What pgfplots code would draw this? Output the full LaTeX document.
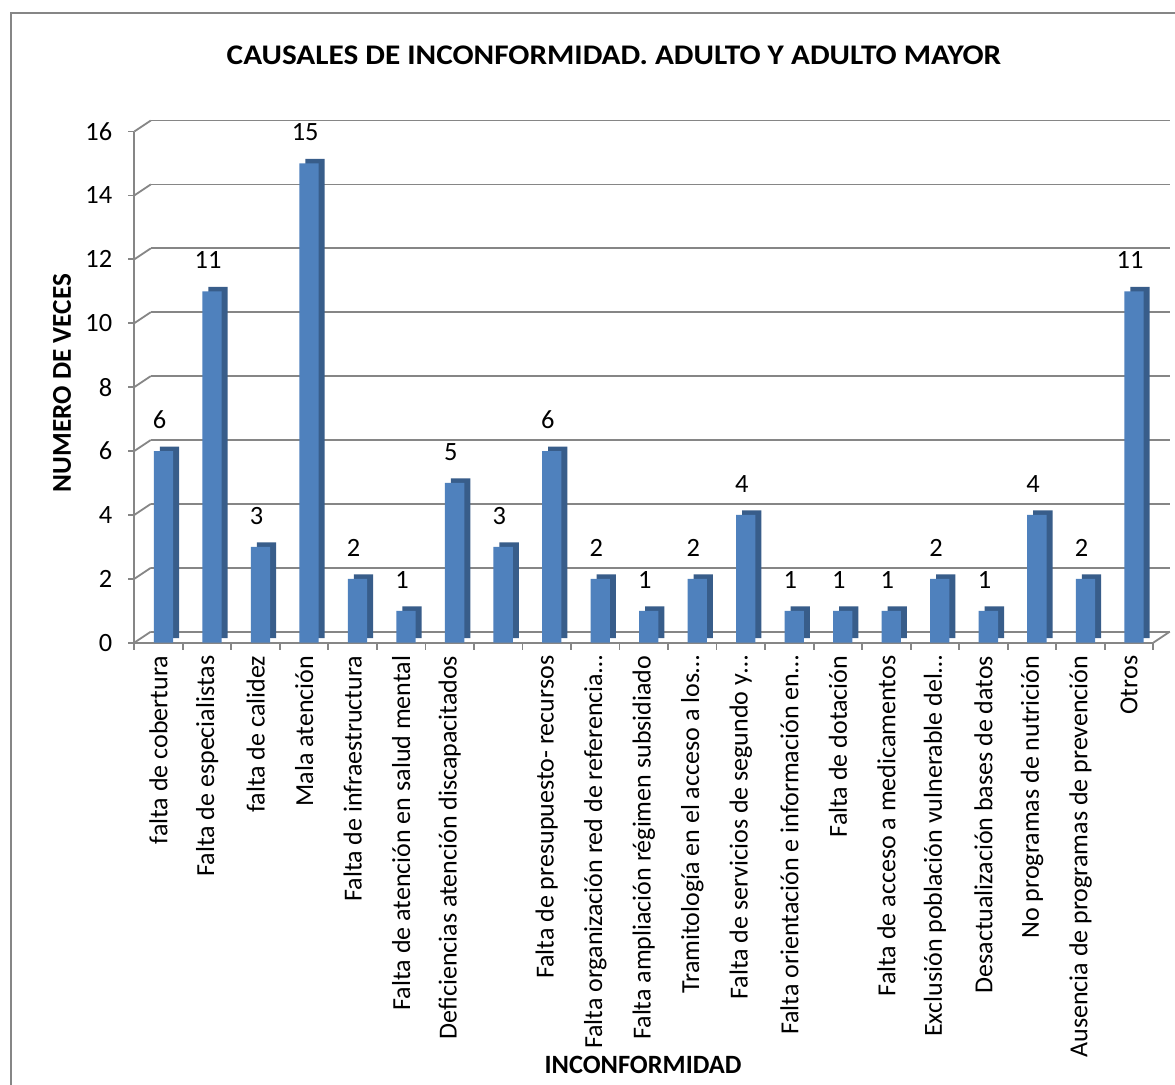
\documentclass[border=0pt]{standalone}
\usepackage{fontspec}
\setmainfont{Carlito}
\newfontfamily\titlefont[FakeStretch=1.1]{Carlito}
\usepackage{pgfplots}
\pgfplotsset{compat=1.18}

\definecolor{barfront}{HTML}{4F81BD}
\definecolor{barside}{HTML}{385D8A}
\definecolor{gridgray}{HTML}{868686}

\begin{document}
\begin{tikzpicture}
% page area and chart frame
\useasboundingbox (0,0) rectangle (587.5pt,-542.5pt);
\fill[white] (0,0) rectangle (587.5pt,-542.5pt);
\draw[gridgray, line width=1pt] (5.3pt,-542.5pt) -- (5.3pt,-6.3pt) -- (587.5pt,-6.3pt);

\node[font=\titlefont\bfseries\fontsize{14.2}{16}\selectfont] at (307pt,-27.5pt)
  {CAUSALES DE INCONFORMIDAD. ADULTO Y ADULTO MAYOR};
\node[font=\bfseries\fontsize{13.6}{15}\selectfont, rotate=90] at (31pt,-191.5pt)
  {NUMERO DE VECES};
\node[font=\bfseries\fontsize{13.2}{15}\selectfont] at (321.5pt,-532.5pt)
  {INCONFORMIDAD};

\begin{axis}[
  at={(67.15pt,-321.35pt)}, anchor=south west,
  scale only axis, width=509.5pt, height=255.6pt,
  xmin=-0.5, xmax=20.5, ymin=0, ymax=16,
  axis lines*=left,
  axis line style={gridgray, line width=0.9pt},
  tick align=outside,
  ytick={0,2,...,16},
  major tick length=3pt,
  minor tick length=3.5pt,
  tick style={gridgray, line width=0.9pt},
  major x tick style={draw=none},
  xtick={0,...,20},
  minor xtick={-0.5,0.5,...,20.5},
  ymajorgrids,
  grid style={gridgray, line width=0.9pt, xshift=8.25pt, yshift=5.5pt},
  /pgf/number format/assume math mode=true,
  yticklabel style={font=\fontsize{13.2}{15}\selectfont, xshift=-4.5pt},
  xticklabel style={font=\fontsize{13}{15}\selectfont, rotate=90, anchor=east},
  xticklabels={
    falta de cobertura,
    Falta de especialistas,
    falta de calidez,
    Mala atención,
    Falta de infraestructura,
    Falta de atención en salud mental,
    Deficiencias atención discapacitados,
    {},
    Falta de presupuesto- recursos,
    Falta organización red de referencia…,
    Falta ampliación régimen subsidiado,
    Tramitología en el acceso a los…,
    Falta de servicios de segundo y…,
    Falta orientación e información en…,
    Falta de dotación,
    Falta de acceso a medicamentos,
    Exclusión población vulnerable del…,
    Desactualización bases de datos,
    No programas de nutrición,
    Ausencia de programas de prevención,
    Otros},
  clip=false,
]
% side and top faces of the columns
\addplot[ybar, bar width=9.65pt, bar shift=5.45pt, yshift=2.25pt,
  fill=barside, draw=none]
  coordinates {(0,6) (1,11) (2,3) (3,15) (4,2) (5,1) (6,5) (7,3) (8,6) (9,2)
    (10,1) (11,2) (12,4) (13,1) (14,1) (15,1) (16,2) (17,1) (18,4) (19,2) (20,11)};
% front faces with value labels
\addplot[ybar, bar width=9.65pt, bar shift=2.45pt,
  fill=barfront, draw=none,
  nodes near coords,
  every node near coord/.append style={font=\fontsize{13.2}{15}\selectfont,
    anchor=center, yshift=15.5pt, xshift=0.5pt, text=black}]
  coordinates {(0,6) (1,11) (2,3) (3,15) (4,2) (5,1) (6,5) (7,3) (8,6) (9,2)
    (10,1) (11,2) (12,4) (13,1) (14,1) (15,1) (16,2) (17,1) (18,4) (19,2) (20,11)};
% side wall and floor edges
\pgfplotsinvokeforeach{0,2,...,16}{
  \draw[gridgray, line width=0.9pt] (axis cs:-0.5,#1) -- ++(8.25pt,5.5pt);
}
\draw[gridgray, line width=0.9pt] (axis cs:20.5,0) -- ++(8.25pt,5.5pt);
\end{axis}
\end{tikzpicture}
\end{document}
